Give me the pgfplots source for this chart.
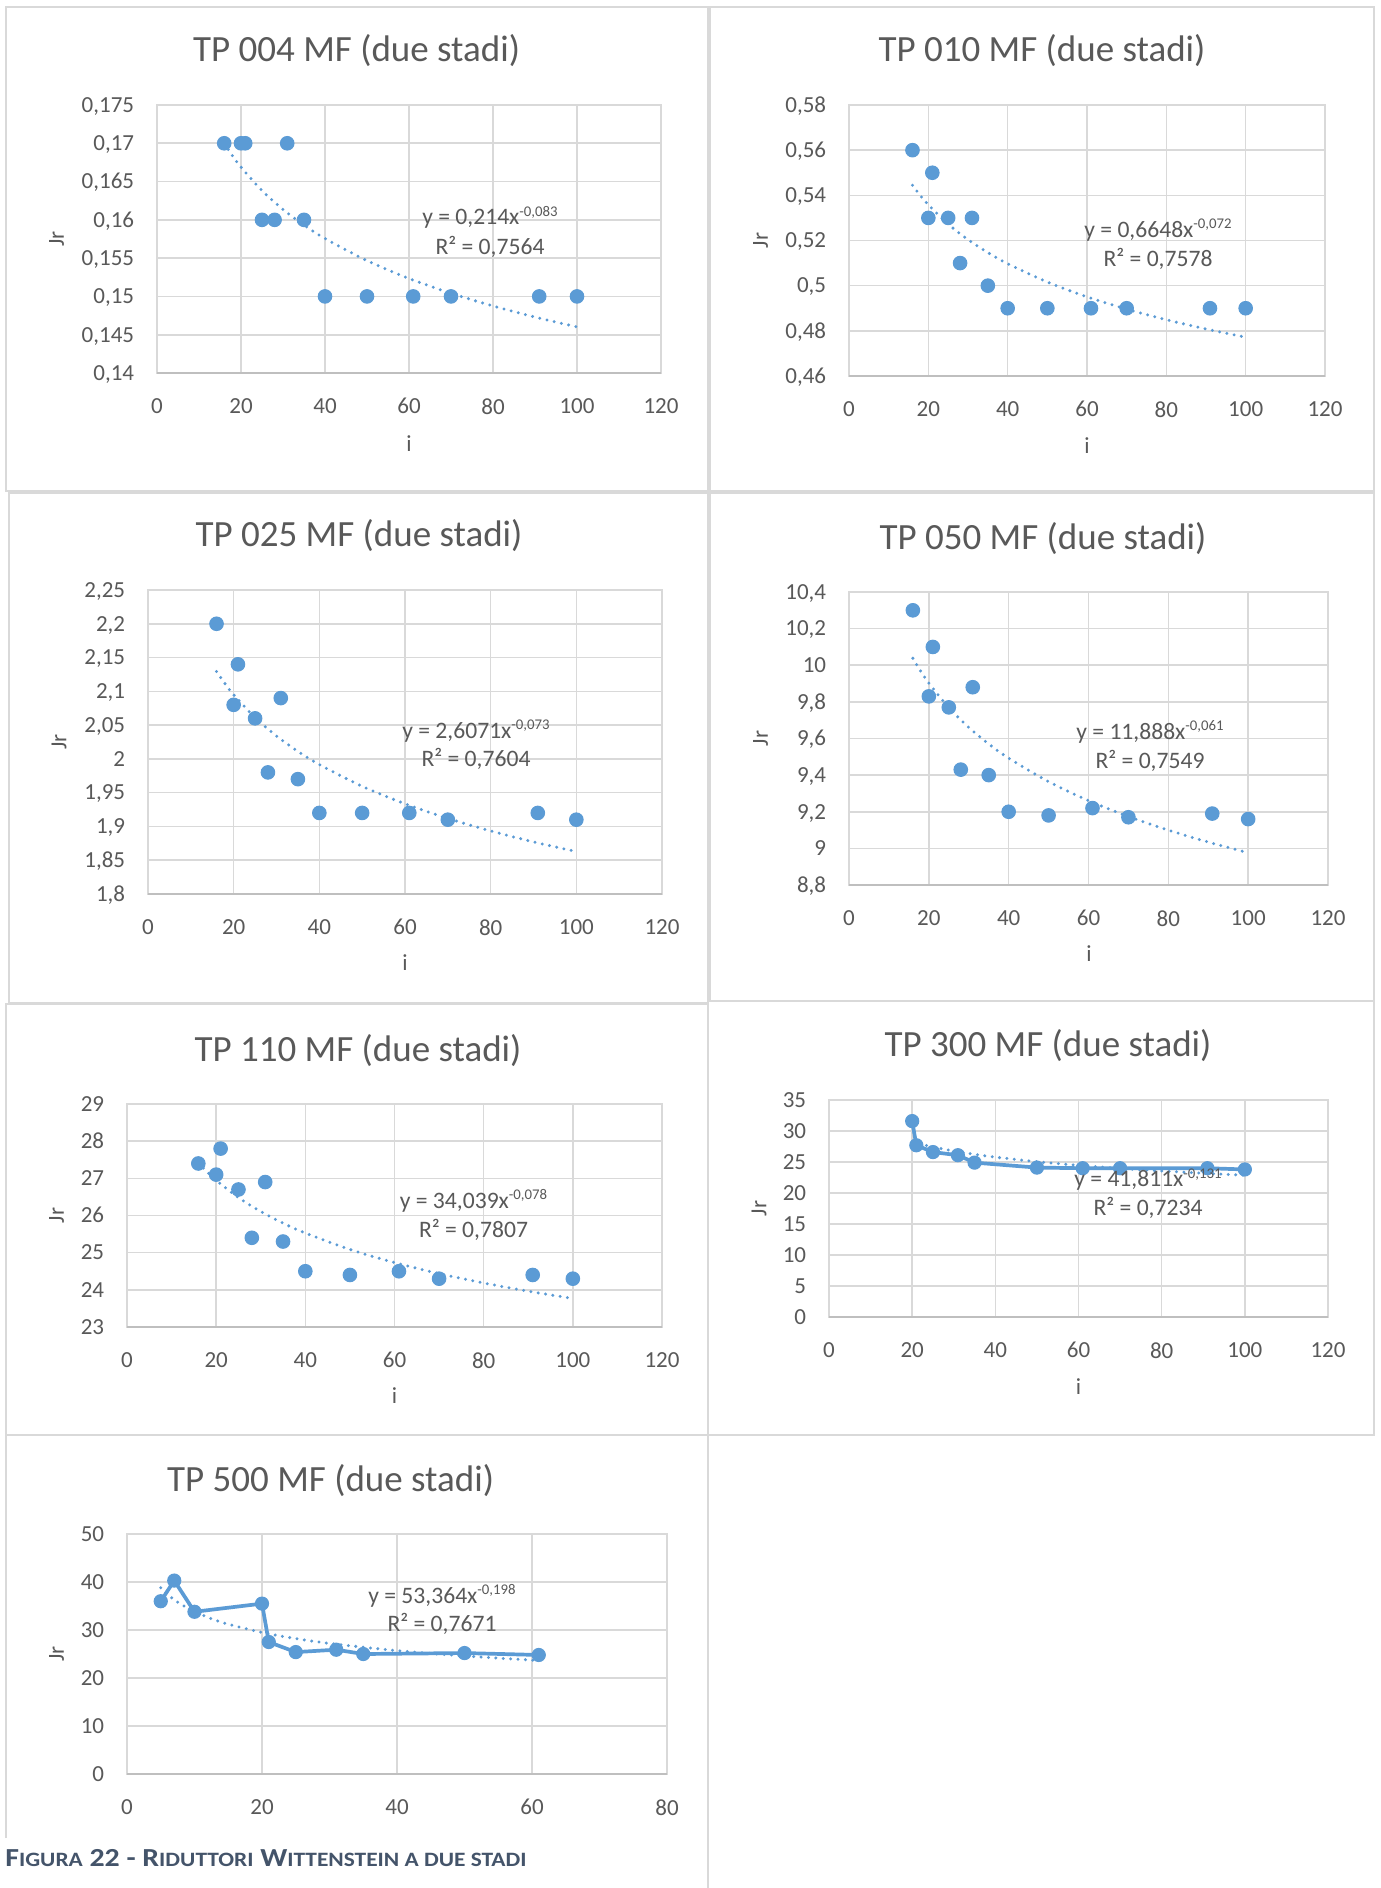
\documentclass[border=0pt]{standalone}
\usepackage{fontspec}
\setmainfont{Carlito}
\usepackage{pgfplots}
\pgfplotsset{compat=1.18}
\definecolor{mk}{HTML}{5B9BD5}
\definecolor{gridc}{HTML}{D9D9D9}
\definecolor{axc}{HTML}{BFBFBF}
\definecolor{txt}{HTML}{595959}
\definecolor{cap}{HTML}{44546A}
\definecolor{frm}{HTML}{D9D9D9}
\newcommand\tickfont{\fontsize{11.5}{13}\selectfont}
\newcommand\eqfont{\fontsize{11.8}{13}\selectfont}
\newcommand\titlefont{\fontsize{18.5}{21}\selectfont}
\newcommand\supfont{\fontsize{7.4}{8}\selectfont}
\newcommand\capbig{\fontsize{13}{15}\selectfont}
\newcommand\capsmall{\fontsize{10.2}{12}\selectfont}
\newcommand\botline{\draw[axc, line width=0.9pt] (rel axis cs:0,0) -- (rel axis cs:1,0);}
\newcommand\eqnode[6]{%
 \node[anchor=base, inner sep=0pt, text=txt, font=\eqfont] at (#1pt,#2pt) {y = #4x\raisebox{4.2pt}{\supfont -#5}};
 \node[anchor=base, inner sep=0pt, text=txt, font=\eqfont] at (#1pt,#3pt) {R² = #6};
}
\newcommand\ttl[3]{\node[anchor=base, inner sep=0pt, text=txt, font=\titlefont] at (#1pt,#2pt) {#3};}
\newcommand\ilab[2]{\node[anchor=base, inner sep=0pt, text=txt, font=\tickfont] at (#1pt,#2pt) {i};}
\newcommand\jlab[2]{\node[rotate=90, inner sep=0pt, text=txt, font=\tickfont] at (#1pt,#2pt) {Jr};}
\pgfplotsset{
 jr/.style={
  scale only axis, anchor=north west, clip=false,
  xmin=0, xmax=120, xtick={0,20,40,60,80,100,120},
  scaled ticks=false,
  grid=major,
  major grid style={draw=gridc, line width=0.8pt},
  axis line style={draw=gridc, line width=0.8pt},
  major tick length=0pt,
  tick label style={font=\tickfont, text=txt, inner sep=0pt},
  xticklabel style={anchor=north, yshift=-12.5pt},
  yticklabel style={anchor=base east, yshift=-3.65pt, xshift=-11.25pt},
  /pgf/number format/use comma,
  /pgf/number format/1000 sep={},
  /pgf/number format/precision=3,
  /pgf/number format/assume math mode=true,
 },
 pts/.style={only marks, mark=*, mark size=3.4pt, mark options={fill=mk, draw=mk, line width=0.5pt, solid}},
 trend/.style={no marks, smooth, mk, line width=1.65pt, line cap=round, dash pattern=on 0pt off 3.7pt},
 conn/.style={mark=*, mk, line width=1.85pt, mark size=3.3pt, mark options={fill=mk, draw=mk, line width=0.5pt, solid}},
}
\begin{document}
\begin{tikzpicture}
\fill[white] (0,0) rectangle (690pt,-944pt);
% frames
\draw[frm, line width=1pt] (3pt,-3.5pt) rectangle (354pt,-245.5pt);
\draw[frm, line width=1pt] (355pt,-3.5pt) rectangle (687pt,-245.5pt);
\draw[frm, line width=1pt] (4.5pt,-246.5pt) rectangle (354pt,-501.5pt);
\draw[frm, line width=1pt] (355pt,-246.5pt) rectangle (687pt,-500.5pt);
\draw[frm, line width=1pt] (3pt,-502pt) rectangle (354pt,-717.5pt);
\draw[frm, line width=1pt] (354pt,-500.5pt) rectangle (687pt,-717.5pt);
\draw[frm, line width=1pt] (3pt,-919pt) -- (3pt,-717.5pt) -- (354pt,-717.5pt) -- (354pt,-944pt);

% ---------- TP 004
\begin{axis}[jr, at={(78.5pt,-52.5pt)}, width=252pt, height=134pt,
 ymin=0.14, ymax=0.175, ytick={0.14,0.145,0.15,0.155,0.16,0.165,0.17,0.175}]
\addplot[pts] coordinates {(16,0.17)(20,0.17)(21,0.17)(25,0.16)(28,0.16)(31,0.17)(35,0.16)(40,0.15)(50,0.15)(61,0.15)(70,0.15)(91,0.15)(100,0.15)};
\addplot[trend] coordinates {(16,0.17001)(18,0.16835)(20,0.16689)(25,0.16382)(30,0.16136)(35,0.15931)(40,0.15756)(50,0.15467)(60,0.15234)(70,0.15041)(80,0.14875)(90,0.14730)(100,0.14602)};
\botline
\end{axis}
% ---------- TP 010
\begin{axis}[jr, at={(424.5pt,-52.5pt)}, width=238pt, height=135.5pt,
 ymin=0.46, ymax=0.58, ytick={0.46,0.48,0.5,0.52,0.54,0.56,0.58}]
\addplot[pts] coordinates {(16,0.56)(20,0.53)(21,0.55)(25,0.53)(28,0.51)(31,0.53)(35,0.50)(40,0.49)(50,0.49)(61,0.49)(70,0.49)(91,0.49)(100,0.49)};
\addplot[trend] coordinates {(16,0.54449)(18,0.53989)(20,0.53582)(25,0.52727)(30,0.52039)(35,0.51465)(40,0.50973)(50,0.50160)(60,0.49506)(70,0.48960)(80,0.48491)(90,0.48082)(100,0.47719)};
\botline
\end{axis}
% ---------- TP 025
\begin{axis}[jr, at={(74pt,-295pt)}, width=257pt, height=152pt,
 ymin=1.8, ymax=2.25, ytick={1.8,1.85,1.9,1.95,2,2.05,2.1,2.15,2.2,2.25}]
\addplot[pts] coordinates {(16,2.2)(20,2.08)(21,2.14)(25,2.06)(28,1.98)(31,2.09)(35,1.97)(40,1.92)(50,1.92)(61,1.92)(70,1.91)(91,1.92)(100,1.91)};
\addplot[trend] coordinates {(16,2.12940)(18,2.11116)(20,2.09499)(25,2.06113)(30,2.03388)(35,2.01112)(40,1.99161)(50,1.95943)(60,1.93354)(70,1.91190)(80,1.89334)(90,1.87711)(100,1.86275)};
\botline
\end{axis}
% ---------- TP 050
\begin{axis}[jr, at={(424.5pt,-296pt)}, width=239.5pt, height=146.5pt,
 ymin=8.8, ymax=10.4, ytick={8.8,9,9.2,9.4,9.6,9.8,10,10.2,10.4}]
\addplot[pts] coordinates {(16,10.3)(20,9.83)(21,10.1)(25,9.77)(28,9.43)(31,9.88)(35,9.40)(40,9.20)(50,9.18)(61,9.22)(70,9.17)(91,9.19)(100,9.16)};
\addplot[trend] coordinates {(16,10.0382)(18,9.9664)(20,9.9026)(25,9.7687)(30,9.6607)(35,9.5703)(40,9.4926)(50,9.3643)(60,9.2608)(70,9.1740)(80,9.0996)(90,9.0344)(100,8.9765)};
\botline
\end{axis}
% ---------- TP 110
\begin{axis}[jr, at={(63.5pt,-552pt)}, width=267.5pt, height=111.5pt,
 ymin=23, ymax=29, ytick={23,24,25,26,27,28,29}]
\addplot[pts] coordinates {(16,27.4)(20,27.1)(21,27.8)(25,26.7)(28,25.4)(31,26.9)(35,25.3)(40,24.5)(50,24.4)(61,24.5)(70,24.3)(91,24.4)(100,24.3)};
\addplot[trend] coordinates {(16,27.419)(18,27.168)(20,26.946)(25,26.481)(30,26.107)(35,25.795)(40,25.528)(50,25.087)(60,24.733)(70,24.438)(80,24.184)(90,23.963)(100,23.767)};
\botline
\end{axis}
% ---------- TP 300
\begin{axis}[jr, at={(414.5pt,-550pt)}, width=249.5pt, height=108.5pt,
 ymin=0, ymax=35, ytick={0,5,10,15,20,25,30,35}]
\addplot[conn] coordinates {(20,31.6)(21,27.7)(25,26.6)(31,26.1)(35,24.9)(50,24.1)(61,24.0)(70,24.0)(91,24.0)(100,23.8)};
\addplot[trend] coordinates {(20,28.240)(25,27.426)(30,26.779)(35,26.244)(40,25.788)(50,25.046)(60,24.455)(70,23.965)(80,23.550)(90,23.190)(100,22.870)};
\botline
\end{axis}
% ---------- TP 500
\begin{axis}[jr, at={(63.5pt,-767pt)}, width=270pt, height=120pt,
 xmax=80, xtick={0,20,40,60,80},
 ymin=0, ymax=50, ytick={0,10,20,30,40,50}]
\addplot[conn] coordinates {(5,36)(7,40.3)(10,33.8)(20,35.5)(21,27.5)(25,25.4)(31,25.9)(35,25.0)(50,25.2)(61,24.8)};
\addplot[trend] coordinates {(5,38.802)(6,37.427)(7,36.301)(8,35.354)(10,33.826)(12.5,32.364)(15,31.217)(20,29.488)(25,28.212)(30,27.212)(40,25.705)(50,24.594)(61,23.645)};
\botline
\end{axis}

% titles
\ttl{178.3}{-30.85}{TP 004 MF (due stadi)}
\ttl{521}{-30.85}{TP 010 MF (due stadi)}
\ttl{179.5}{-273.35}{TP 025 MF (due stadi)}
\ttl{521.5}{-274.65}{TP 050 MF (due stadi)}
\ttl{179}{-530.5}{TP 110 MF (due stadi)}
\ttl{524}{-528.35}{TP 300 MF (due stadi)}
\ttl{165.3}{-745.5}{TP 500 MF (due stadi)}
% axis labels
\ilab{204.5}{-225.85}\ilab{543.5}{-226.5}\ilab{202.5}{-485.35}\ilab{544.5}{-480.85}
\ilab{197.25}{-701.5}\ilab{539.25}{-697}
\jlab{28.3}{-119.5}\jlab{380.25}{-120.25}\jlab{29.5}{-371}\jlab{380.25}{-369.25}
\jlab{28.3}{-607.75}\jlab{379.5}{-604.25}\jlab{28.3}{-827}
% trendline equations
\eqnode{245}{-112.5}{-127.5}{0,214}{0,083}{0,7564}
\eqnode{579}{-118.65}{-133.35}{0,6648}{0,072}{0,7578}
\eqnode{238}{-369.15}{-383}{2,6071}{0,073}{0,7604}
\eqnode{575}{-369.65}{-384.15}{11,888}{0,061}{0,7549}
\eqnode{236.75}{-604.15}{-618.65}{34,039}{0,078}{0,7807}
\eqnode{574}{-593.35}{-607.5}{41,811}{0,131}{0,7234}
\eqnode{221}{-801.65}{-815.85}{53,364}{0,198}{0,7671}
% caption
\fill[white] (0,-919.5pt) rectangle (352pt,-944pt);
\node[anchor=base west, inner sep=0pt, text=cap, font=\bfseries\capbig] at (2.5pt,-933.35pt)
 {\scalebox{1.147}[1]{F{\capsmall IGURA} 22 - R{\capsmall IDUTTORI} W{\capsmall ITTENSTEIN A DUE STADI}}};
\pgfresetboundingbox
\useasboundingbox (0,0) rectangle (690pt,-944pt);
\end{tikzpicture}
\end{document}
